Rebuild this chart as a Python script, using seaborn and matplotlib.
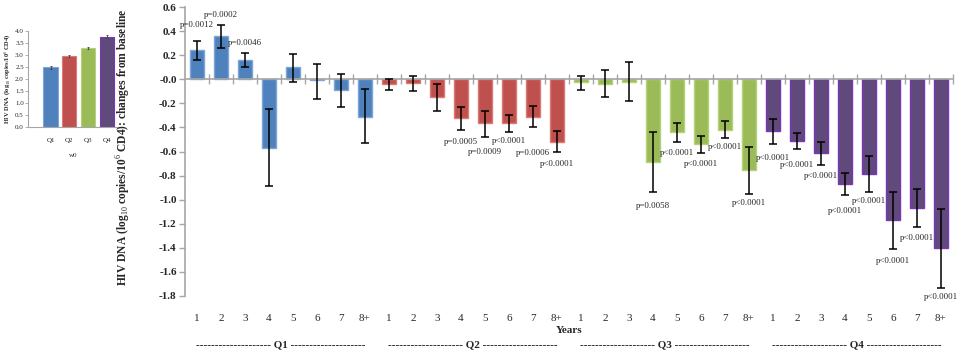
"""HIV DNA at baseline and changes from baseline by quartile"""
import numpy as np
import pandas as pd
import matplotlib
matplotlib.use("Agg")
import matplotlib.pyplot as plt
import seaborn as sns

quartiles = ["Q1", "Q2", "Q3", "Q4"]
years = ["1", "2", "3", "4", "5", "6", "7", "8+"]

# baseline (w0) levels
w0_mean = [2.48, 2.95, 3.30, 3.77]
w0_err = [0.06, 0.03, 0.03, 0.08]

# change from baseline, per quartile: mean, lower and upper error bar ends
q1_mean = [0.24, 0.36, 0.16, -0.57, 0.10, -0.01, -0.09, -0.31]
q1_lo = [0.16, 0.26, 0.10, -0.89, -0.02, -0.16, -0.23, -0.53]
q1_hi = [0.32, 0.45, 0.22, -0.25, 0.21, 0.13, 0.04, -0.08]

q2_mean = [-0.04, -0.03, -0.15, -0.32, -0.36, -0.36, -0.31, -0.52]
q2_lo = [-0.09, -0.10, -0.26, -0.42, -0.48, -0.44, -0.40, -0.60]
q2_hi = [0.00, 0.03, -0.04, -0.23, -0.26, -0.30, -0.22, -0.43]

q3_mean = [-0.02, -0.04, -0.02, -0.69, -0.44, -0.54, -0.42, -0.75]
q3_lo = [-0.09, -0.15, -0.18, -0.94, -0.52, -0.61, -0.49, -0.95]
q3_hi = [0.03, 0.08, 0.14, -0.44, -0.36, -0.47, -0.35, -0.56]

q4_mean = [-0.43, -0.51, -0.61, -0.87, -0.79, -1.17, -1.07, -1.40]
q4_lo = [-0.54, -0.58, -0.71, -0.96, -0.94, -1.41, -1.23, -1.73]
q4_hi = [-0.33, -0.45, -0.52, -0.78, -0.64, -0.94, -0.91, -1.08]

# p-value annotations: bar index (0-31), text, label centre (data units)
p_idx = [0, 1, 2, 11, 12, 13, 14, 15, 19, 20, 21, 22, 23,
         24, 25, 26, 27, 28, 29, 30, 31]
p_text = ["p=0.0012", "p=0.0002", "p=0.0046",
          "p=0.0005", "p=0.0009", "p<0.0001", "p=0.0006", "p<0.0001",
          "p=0.0058", "p<0.0001", "p<0.0001", "p<0.0001", "p<0.0001",
          "p<0.0001", "p<0.0001", "p<0.0001", "p<0.0001",
          "p<0.0001", "p<0.0001", "p<0.0001", "p<0.0001"]
p_y = [0.45, 0.53, 0.30,
       -0.52, -0.60, -0.51, -0.61, -0.70,
       -1.05, -0.61, -0.70, -0.56, -1.03,
       -0.65, -0.71, -0.80, -1.09, -1.01, -1.51, -1.32, -1.81]

fills = {"Q1": "#4F81BD", "Q2": "#C0504D", "Q3": "#9BBB59", "Q4": "#5F4A7B"}
edges = {"Q1": "#7FA5D8", "Q2": "#D77C79", "Q3": "#B5D27A", "Q4": "#7A35B8"}
axis_grey = "#A6A6A6"

means = q1_mean + q2_mean + q3_mean + q4_mean
lows = q1_lo + q2_lo + q3_lo + q4_lo
highs = q1_hi + q2_hi + q3_hi + q4_hi
df = pd.DataFrame({
    "quartile": np.repeat(quartiles, len(years)),
    "year": years * len(quartiles),
    "change": means,
})
df["key"] = df["quartile"] + "-" + df["year"]

sns.set_style("white")
plt.rcParams["font.family"] = ["Liberation Serif", "DejaVu Serif"]
plt.rcParams["mathtext.fontset"] = "custom"
plt.rcParams["mathtext.rm"] = "Liberation Serif"
plt.rcParams["mathtext.bf"] = "Liberation Serif:bold"

fig = plt.figure(figsize=(9.57, 3.52), dpi=100)

# ---- baseline inset (drawn first so it sits under the main y label) ----
ax2 = fig.add_axes([0.0293, 0.6392, 0.0950, 0.2727])
ax2.set_facecolor("none")
sns.barplot(x=quartiles, y=w0_mean, hue=quartiles, palette=fills, width=0.76,
            saturation=1, errorbar=None, legend=False, ax=ax2)
for patch, q in zip(ax2.patches, quartiles):
    patch.set_edgecolor(edges[q])
    patch.set_linewidth(0.8)
ax2.errorbar(np.arange(4), w0_mean, yerr=w0_err, fmt="none", ecolor="#404040",
             elinewidth=0.6, capsize=1, capthick=0.6)
ax2.set_xlim(-1.2, 3.65)
ax2.set_ylim(0, 4)
ax2.set_yticks(np.arange(0, 4.01, 0.5))
ax2.yaxis.set_major_formatter(matplotlib.ticker.FormatStrFormatter("%.1f"))
for s in ["top", "right"]:
    ax2.spines[s].set_visible(False)
for s in ["left", "bottom"]:
    ax2.spines[s].set_color(axis_grey)
    ax2.spines[s].set_linewidth(0.8)
ax2.tick_params(axis="y", left=True, length=2, width=0.6, color=axis_grey,
                labelsize=5, pad=1)
ax2.tick_params(axis="x", length=0, labelsize=5, pad=8)
ax2.set_xlabel("w0", fontsize=5, labelpad=7)
ax2.set_ylabel("HIV DNA (log$_{10}$ copies/10$^{6}$ CD4)", fontsize=4.6,
               fontweight="bold", labelpad=2)

# ---- main panel ----
ax = fig.add_axes([0.1933, 0.1591, 0.8025, 0.8210])
ax.set_facecolor("none")
sns.barplot(data=df, x="key", y="change", hue="quartile", order=list(df["key"]),
            palette=fills, dodge=False, width=0.6, saturation=1,
            errorbar=None, legend=False, ax=ax)
for patch, q in zip(ax.patches, df["quartile"]):
    patch.set_edgecolor(edges[q])
    patch.set_linewidth(1.0)

m = np.array(means)
ax.errorbar(np.arange(len(m)), m, yerr=[m - np.array(lows), np.array(highs) - m],
            fmt="none", ecolor="black", elinewidth=1.1, capsize=2.6,
            capthick=1.1, zorder=4)

for i, txt, y in zip(p_idx, p_text, p_y):
    ax.text(i, y, txt, ha="center", va="center", fontsize=6.4, clip_on=False)

ax.set_xlim(-0.5, len(m) - 0.5)
ax.set_ylim(-1.8, 0.6)
ax.set_yticks(np.arange(-1.8, 0.61, 0.2))
ax.yaxis.set_major_formatter(matplotlib.ticker.FormatStrFormatter("%.1f"))
for lab in ax.get_yticklabels():
    lab.set_fontweight("bold")
ax.tick_params(axis="y", left=True, direction="out", length=4, width=1,
               color=axis_grey, labelsize=8, pad=2)

for s in ["top", "right"]:
    ax.spines[s].set_visible(False)
ax.spines["left"].set_color(axis_grey)
ax.spines["left"].set_linewidth(1.2)
ax.spines["bottom"].set_position(("data", 0))
ax.spines["bottom"].set_color(axis_grey)
ax.spines["bottom"].set_linewidth(1.2)
ax.tick_params(axis="x", which="major", length=0, labelbottom=False)
ax.set_xticks(np.arange(0.5, len(m), 1), minor=True)
ax.tick_params(axis="x", which="minor", bottom=True, direction="inout",
               length=7, width=1, color=axis_grey)
ax.set_xlabel("")
ax.set_ylabel("HIV DNA (log$_{10}$ copies/10$^{6}$ CD4): changes from baseline",
              fontsize=8.3, fontweight="bold")
ax.yaxis.set_label_coords(-0.068, 0.515)

sec = ax.secondary_xaxis(-0.058)
sec.set_xticks(np.arange(len(m)), labels=years * len(quartiles))
sec.spines["bottom"].set_visible(False)
sec.tick_params(length=0, labelsize=8, pad=1)
sec.set_xlabel("Years", fontsize=8, fontweight="bold", labelpad=2)

dash = "-" * 20
for k, q in enumerate(quartiles):
    ax.text(k * len(years) + (len(years) - 1) / 2, -0.17,
            f"{dash} {q} {dash}", transform=ax.get_xaxis_transform(),
            ha="center", va="center", fontsize=8, fontweight="bold")

fig.savefig("out.png", dpi=100)
